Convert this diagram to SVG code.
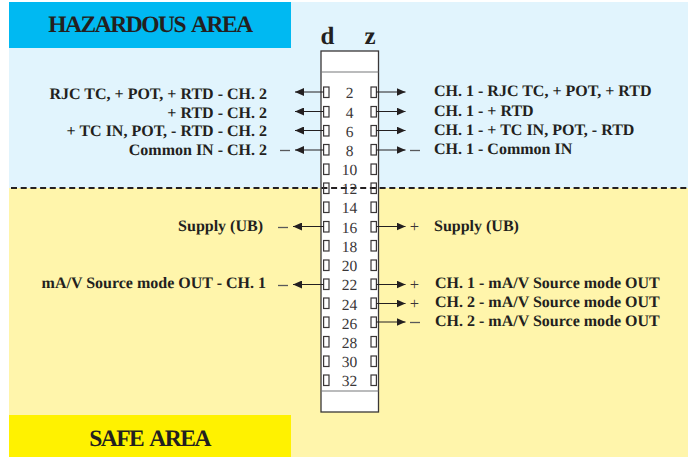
<svg xmlns="http://www.w3.org/2000/svg" width="688" height="457" viewBox="0 0 688 457">
<style>
text{font-family:"Liberation Serif","Times New Roman",serif;fill:#231f20;text-rendering:geometricPrecision}
.l{font-size:16px;font-weight:bold}
.e{text-anchor:end}
.t{font-size:23.5px;font-weight:bold;text-anchor:middle;letter-spacing:-1.5px;word-spacing:3px}
.n{font-size:15.5px;text-anchor:middle;fill:#3a3637}
.h{font-size:25px;font-weight:bold;text-anchor:middle}
.p{fill:#fff;stroke:#3a3637;stroke-width:1.2}
.a{stroke:#231f20;stroke-width:1;fill:none}
.s{font-size:16.5px;text-anchor:middle;fill:#3a3637}
.m{stroke:#58595b;stroke-width:1.3}
</style>
<defs>
<marker id="ah" markerUnits="userSpaceOnUse" markerWidth="9" markerHeight="8" refX="9" refY="4" orient="auto"><path d="M0 0L9 4L0 8z" fill="#231f20"/></marker>
</defs>
<g id="areas">
<rect x="9" y="2" width="679" height="186" fill="#e1f4fd"/>
<rect x="9" y="188" width="679" height="269" fill="#fff5ab"/>
<rect x="9" y="2" width="282" height="46" fill="#00b9f2"/>
<rect x="9" y="415" width="282" height="42" fill="#fff200"/>
<text class="t" x="150" y="32">HAZARDOUS AREA</text>
<text class="t" x="149.500" y="446">SAFE AREA</text>
</g>
<g id="connector-block">
<rect x="321" y="51" width="57.500" height="361" fill="#fff" stroke="#3a3637" stroke-width="1.300"/>
<line x1="321" y1="72" x2="378.500" y2="72" stroke="#77787b" stroke-width="1.200"/>
<line x1="321" y1="391" x2="378.500" y2="391" stroke="#77787b" stroke-width="1.200"/>
<text class="h" x="327.500" y="44">d</text>
<text class="h" x="370" y="44">z</text>
</g>
<line id="boundary" x1="11" y1="188" x2="688" y2="188" stroke="#231f20" stroke-width="2" stroke-dasharray="6 3.700"/>
<g id="pins">
<g id="pin-2"><rect class="p" x="323.600" y="87" width="5.400" height="10.500"/><rect class="p" x="371" y="87" width="5.400" height="10.500"/><text class="n" x="349.500" y="98">2</text></g>
<g id="pin-4"><rect class="p" x="323.600" y="106.500" width="5.400" height="10.500"/><rect class="p" x="371" y="106.500" width="5.400" height="10.500"/><text class="n" x="349.500" y="117.500">4</text></g>
<g id="pin-6"><rect class="p" x="323.600" y="125.500" width="5.400" height="10.500"/><rect class="p" x="371" y="125.500" width="5.400" height="10.500"/><text class="n" x="349.500" y="137">6</text></g>
<g id="pin-8"><rect class="p" x="323.600" y="144.500" width="5.400" height="10.500"/><rect class="p" x="371" y="144.500" width="5.400" height="10.500"/><text class="n" x="349.500" y="156">8</text></g>
<g id="pin-10"><rect class="p" x="323.600" y="164" width="5.400" height="10.500"/><rect class="p" x="371" y="164" width="5.400" height="10.500"/><text class="n" x="349.500" y="175">10</text></g>
<g id="pin-12"><rect class="p" x="323.600" y="183" width="5.400" height="10.500" fill-opacity="0"/><rect class="p" x="371" y="183" width="5.400" height="10.500" fill-opacity="0"/><text class="n" x="349.500" y="194">12</text></g>
<g id="pin-14"><rect class="p" x="323.600" y="202" width="5.400" height="10.500"/><rect class="p" x="371" y="202" width="5.400" height="10.500"/><text class="n" x="349.500" y="213">14</text></g>
<g id="pin-16"><rect class="p" x="323.600" y="221.500" width="5.400" height="10.500"/><rect class="p" x="371" y="221.500" width="5.400" height="10.500"/><text class="n" x="349.500" y="232.500">16</text></g>
<g id="pin-18"><rect class="p" x="323.600" y="240.500" width="5.400" height="10.500"/><rect class="p" x="371" y="240.500" width="5.400" height="10.500"/><text class="n" x="349.500" y="252">18</text></g>
<g id="pin-20"><rect class="p" x="323.600" y="260" width="5.400" height="10.500"/><rect class="p" x="371" y="260" width="5.400" height="10.500"/><text class="n" x="349.500" y="271">20</text></g>
<g id="pin-22"><rect class="p" x="323.600" y="279" width="5.400" height="10.500"/><rect class="p" x="371" y="279" width="5.400" height="10.500"/><text class="n" x="349.500" y="290">22</text></g>
<g id="pin-24"><rect class="p" x="323.600" y="298" width="5.400" height="10.500"/><rect class="p" x="371" y="298" width="5.400" height="10.500"/><text class="n" x="349.500" y="309.500">24</text></g>
<g id="pin-26"><rect class="p" x="323.600" y="317" width="5.400" height="10.500"/><rect class="p" x="371" y="317" width="5.400" height="10.500"/><text class="n" x="349.500" y="329">26</text></g>
<g id="pin-28"><rect class="p" x="323.600" y="336.500" width="5.400" height="10.500"/><rect class="p" x="371" y="336.500" width="5.400" height="10.500"/><text class="n" x="349.500" y="348">28</text></g>
<g id="pin-30"><rect class="p" x="323.600" y="356" width="5.400" height="10.500"/><rect class="p" x="371" y="356" width="5.400" height="10.500"/><text class="n" x="349.500" y="367">30</text></g>
<g id="pin-32"><rect class="p" x="323.600" y="375" width="5.400" height="10.500"/><rect class="p" x="371" y="375" width="5.400" height="10.500"/><text class="n" x="349.500" y="386">32</text></g>
</g>
<g id="connectors">
<line class="a" x1="323.600" y1="92" x2="295" y2="92" marker-end="url(#ah)"/>
<line class="a" x1="323.600" y1="111.500" x2="295" y2="111.500" marker-end="url(#ah)"/>
<line class="a" x1="323.600" y1="130.500" x2="295" y2="130.500" marker-end="url(#ah)"/>
<line class="a" x1="323.600" y1="150" x2="295" y2="150" marker-end="url(#ah)"/>
<line class="a" x1="323.600" y1="226.500" x2="293" y2="226.500" marker-end="url(#ah)"/>
<line class="a" x1="323.600" y1="284.500" x2="293" y2="284.500" marker-end="url(#ah)"/>
<line class="a" x1="376.400" y1="92" x2="405.500" y2="92" marker-end="url(#ah)"/>
<line class="a" x1="376.400" y1="111.500" x2="405.500" y2="111.500" marker-end="url(#ah)"/>
<line class="a" x1="376.400" y1="130.500" x2="405.500" y2="130.500" marker-end="url(#ah)"/>
<line class="a" x1="376.400" y1="150" x2="405.500" y2="150" marker-end="url(#ah)"/>
<line class="a" x1="376.400" y1="226.500" x2="405.500" y2="226.500" marker-end="url(#ah)"/>
<line class="a" x1="376.400" y1="284.500" x2="405.500" y2="284.500" marker-end="url(#ah)"/>
<line class="a" x1="376.400" y1="303.500" x2="405.500" y2="303.500" marker-end="url(#ah)"/>
<line class="a" x1="376.400" y1="322" x2="405.500" y2="322" marker-end="url(#ah)"/>
</g>
<g id="signs">
<line class="m" x1="280" y1="150.500" x2="290" y2="150.500"/>
<line class="m" x1="278" y1="227.500" x2="288" y2="227.500"/>
<line class="m" x1="278" y1="285.500" x2="288" y2="285.500"/>
<line class="m" x1="410" y1="150.500" x2="420" y2="150.500"/>
<line class="m" x1="410" y1="322.500" x2="420" y2="322.500"/>
<text class="s" x="414.500" y="232">+</text>
<text class="s" x="414.500" y="290">+</text>
<text class="s" x="414.500" y="309">+</text>
</g>
<g id="labels-left">
<text class="l e" x="267" y="99">RJC TC, + POT, + RTD - CH. 2</text>
<text class="l e" x="267" y="118">+ RTD - CH. 2</text>
<text class="l e" x="267" y="136">+ TC IN, POT, - RTD - CH. 2</text>
<text class="l e" x="267" y="155">Common IN - CH. 2</text>
<text class="l e" x="263" y="231">Supply (UB)</text>
<text class="l e" x="266" y="288">mA/V Source mode OUT - CH. 1</text>
</g>
<g id="labels-right">
<text class="l" x="434" y="96">CH. 1 - RJC TC, + POT, + RTD</text>
<text class="l" x="434" y="116">CH. 1 - + RTD</text>
<text class="l" x="434" y="135">CH. 1 - + TC IN, POT, - RTD</text>
<text class="l" x="434" y="154">CH. 1 - Common IN</text>
<text class="l" x="434" y="231">Supply (UB)</text>
<text class="l" x="435" y="288">CH. 1 - mA/V Source mode OUT</text>
<text class="l" x="435" y="307">CH. 2 - mA/V Source mode OUT</text>
<text class="l" x="435" y="326">CH. 2 - mA/V Source mode OUT</text>
</g>
</svg>
